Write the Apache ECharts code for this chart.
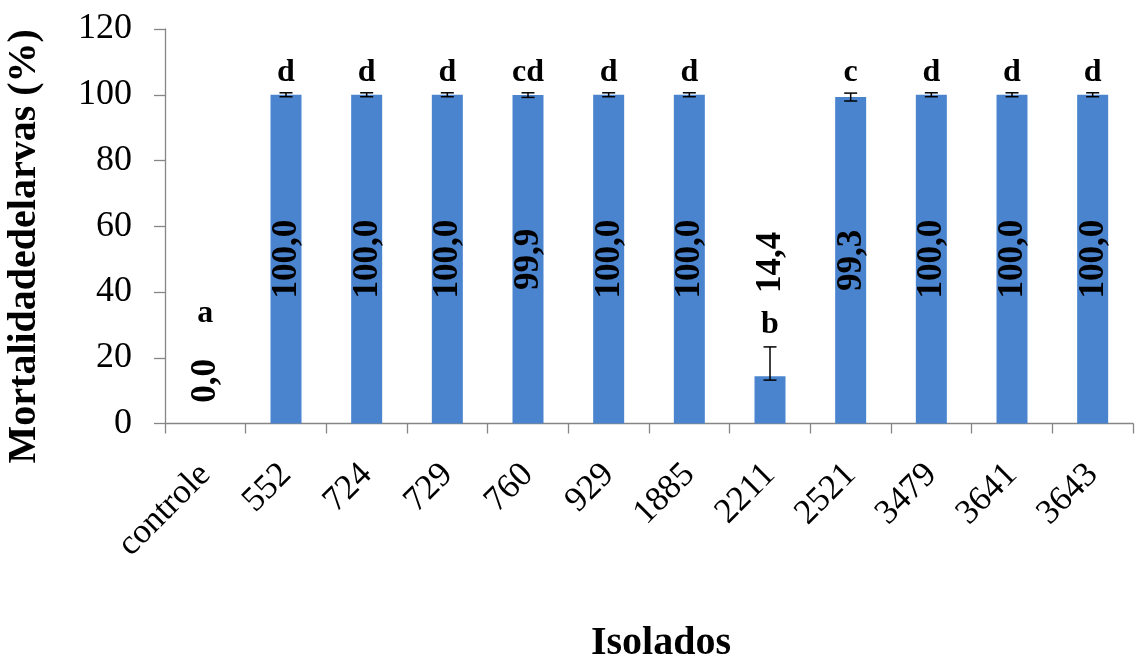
<!DOCTYPE html>
<html>
<head>
<meta charset="utf-8">
<script src="https://cdn.jsdelivr.net/npm/echarts@6/dist/echarts.min.js"></script>
<style>
  html, body { margin: 0; padding: 0; background: #ffffff; }
  #chart { width: 1137px; height: 659px; }
</style>
</head>
<body>
<div id="chart"></div>
<script>
// Larval mortality (%) per isolate, with standard error and significance letters
const isolados = ['controle', '552', '724', '729', '760', '929', '1885', '2211', '2521', '3479', '3641', '3643'];
const mortalidade = [0.0, 100.0, 100.0, 100.0, 99.9, 100.0, 100.0, 14.4, 99.3, 100.0, 100.0, 100.0];
const erroMais = [0, 0.6, 0.6, 0.6, 0.7, 0.6, 0.6, 8.9, 1.2, 0.6, 0.6, 0.6];
const erroMenos = [0, 0.6, 0.6, 0.6, 0.7, 0.6, 0.6, 1.2, 1.2, 0.6, 0.6, 0.6];
const letras = ['a', 'd', 'd', 'd', 'cd', 'd', 'd', 'b', 'c', 'd', 'd', 'd'];

const SERIF = "'Liberation Serif', 'Times New Roman', serif";
const AXIS_GREY = '#868686';
const BAR_BLUE = '#4a84cf';

const fmt = v => v.toFixed(1).replace('.', ',');

const chart = echarts.init(document.getElementById('chart'), null, { renderer: 'canvas' });

const option = {
  animation: false,
  backgroundColor: '#ffffff',
  grid: { left: 165, right: 4, top: 29, bottom: 235.5, containLabel: false, outerBoundsMode: 'none' },
  xAxis: {
    type: 'category',
    data: isolados,
    name: 'Isolados',
    nameLocation: 'middle',
    nameGap: 200,
    nameTextStyle: { fontFamily: SERIF, fontSize: 40, fontWeight: 'bold', color: '#000', padding: [0, 0, 0, 24] },
    axisLine: { lineStyle: { color: AXIS_GREY, width: 1.3 } },
    axisTick: { show: true, length: 10, lineStyle: { color: AXIS_GREY, width: 1.3 } },
    axisLabel: { rotate: 45, margin: 46, fontFamily: SERIF, fontSize: 35, color: '#000', interval: 0 }
  },
  yAxis: {
    type: 'value',
    min: 0, max: 120, interval: 20,
    name: 'Mortalidadedelarvas (%)',
    nameLocation: 'middle',
    nameGap: 120,
    nameTextStyle: { fontFamily: SERIF, fontSize: 40, fontWeight: 'bold', color: '#000', padding: [0, 40, 0, 0] },
    axisLine: { show: true, lineStyle: { color: AXIS_GREY, width: 1.3 } },
    axisTick: { show: true, length: 11, lineStyle: { color: AXIS_GREY, width: 1.3 } },
    axisLabel: { margin: 33, fontFamily: SERIF, fontSize: 36, color: '#000' },
    splitLine: { show: false }
  },
  series: [
    {
      name: 'Mortalidade',
      type: 'bar',
      data: mortalidade,
      barWidth: 31,
      itemStyle: { color: BAR_BLUE },
      z: 2
    },
    {
      // error bars (whisker + caps)
      name: 'Erro',
      type: 'custom',
      z: 3,
      data: mortalidade.map((v, i) => [i, v - erroMenos[i], v + erroMais[i]]),
      renderItem: (params, api) => {
        const i = api.value(0);
        if (erroMais[i] === 0 && erroMenos[i] === 0) return null;
        const lo = api.coord([i, api.value(1)]);
        const hi = api.coord([i, api.value(2)]);
        const half = 6.5;
        const style = { stroke: '#000', lineWidth: 1.5 };
        return {
          type: 'group',
          children: [
            { type: 'line', shape: { x1: hi[0], y1: hi[1], x2: lo[0], y2: lo[1] }, style },
            { type: 'line', shape: { x1: hi[0] - half, y1: hi[1], x2: hi[0] + half, y2: hi[1] }, style },
            { type: 'line', shape: { x1: lo[0] - half, y1: lo[1], x2: lo[0] + half, y2: lo[1] }, style }
          ]
        };
      }
    },
    {
      // value labels (rotated) and significance letters
      name: 'Rotulos',
      type: 'custom',
      z: 4,
      data: mortalidade.map((v, i) => [i, v, v + erroMais[i]]),
      renderItem: (params, api) => {
        const i = api.value(0);
        const v = api.value(1);
        const top = api.coord([i, api.value(2)]);
        // tall bars: text in the middle of the bar; short bars: text placed in the free space
        const anchorVal = v >= 50 ? v / 2 : (v === 0 ? 13 : 49);
        const valAnchor = api.coord([i, anchorVal]);
        const letterY = v < 50 ? api.coord([i, v === 0 ? 33.5 : 30])[1] : top[1] - 20;
        return {
          type: 'group',
          children: [
            {
              type: 'text',
              x: valAnchor[0] + 1, y: valAnchor[1],
              rotation: Math.PI / 2,
              style: {
                text: fmt(v), x: 0, y: 0,
                align: 'center', verticalAlign: 'middle',
                font: 'bold 35px ' + SERIF, fill: '#000'
              }
            },
            {
              type: 'text',
              x: top[0], y: letterY,
              style: {
                text: letras[i], x: 0, y: 0,
                align: 'center', verticalAlign: 'middle',
                font: 'bold 32px ' + SERIF, fill: '#000'
              }
            }
          ]
        };
      }
    }
  ]
};

chart.setOption(option);
</script>
</body>
</html>
